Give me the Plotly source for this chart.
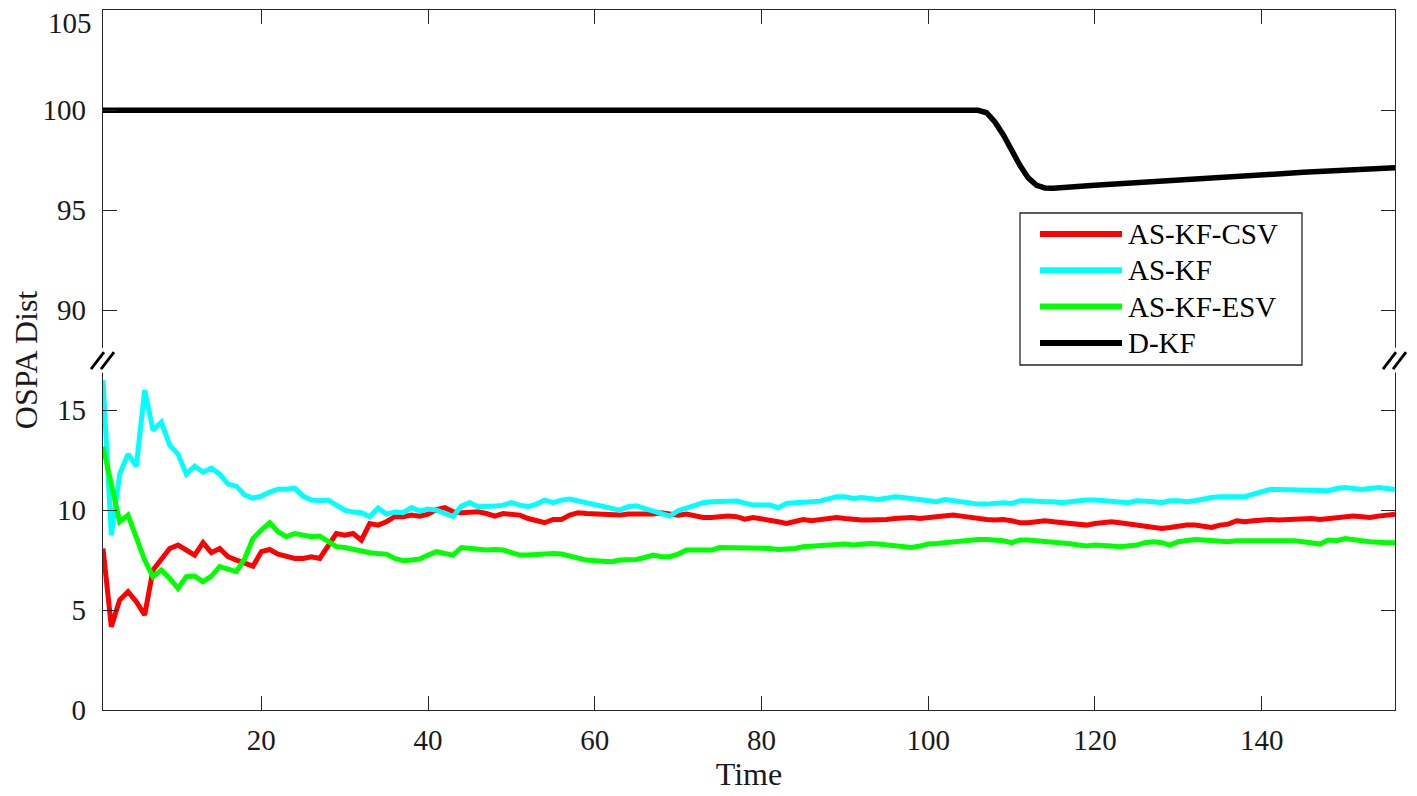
import plotly.graph_objects as go

# ---- data ----
time = list(range(1, 157))

as_kf_csv = [
    8.08, 4.17, 5.5, 5.92, 5.42, 4.75, 7.0, 7.5, 8.08, 8.25,
    8.0, 7.75, 8.37, 7.87, 8.08, 7.67, 7.5, 7.37, 7.2, 7.92,
    8.03, 7.8, 7.67, 7.58, 7.58, 7.67, 7.58, 8.25, 8.83, 8.75,
    8.83, 8.5, 9.33, 9.25, 9.42, 9.67, 9.67, 9.75, 9.7, 9.8,
    10.03, 10.12, 9.92, 9.87, 9.92, 9.92, 9.83, 9.7, 9.83, 9.8,
    9.75, 9.58, 9.5, 9.37, 9.53, 9.53, 9.75, 9.87, 9.83, 9.8,
    9.8, 9.75, 9.75, 9.8, 9.8, 9.75, 9.8, 9.87, 9.8, 9.75,
    9.8, 9.7, 9.63, 9.63, 9.67, 9.7, 9.67, 9.55, 9.63, 9.58,
    9.5, 9.42, 9.33, 9.42, 9.53, 9.47, 9.53, 9.63, 9.63, 9.58,
    9.53, 9.5, 9.5, 9.5, 9.53, 9.58, 9.63, 9.63, 9.58, 9.63,
    9.7, 9.75, 9.75, 9.7, 9.63, 9.58, 9.53, 9.5, 9.53, 9.47,
    9.37, 9.37, 9.42, 9.47, 9.42, 9.37, 9.3, 9.25, 9.25, 9.33,
    9.37, 9.42, 9.37, 9.3, 9.25, 9.2, 9.13, 9.08, 9.13, 9.2,
    9.25, 9.25, 9.2, 9.13, 9.25, 9.3, 9.47, 9.42, 9.47, 9.53,
    9.53, 9.5, 9.53, 9.58, 9.58, 9.58, 9.53, 9.58, 9.63, 9.7,
    9.7, 9.67, 9.63, 9.7, 9.75, 9.8,
]

as_kf = [
    16.5, 8.75, 11.8, 12.8, 12.2, 16.0, 14.0, 14.4, 13.25, 12.8,
    11.8, 12.2, 11.9, 12.1, 11.8, 11.3, 11.2, 10.75, 10.6, 10.7,
    10.9, 11.05, 11.05, 11.1, 10.7, 10.5, 10.47, 10.5, 10.25, 10.0,
    9.9, 9.87, 9.67, 10.1, 9.8, 9.9, 9.87, 10.13, 9.95, 10.05,
    10.0, 9.83, 9.68, 10.2, 10.37, 10.17, 10.17, 10.2, 10.25, 10.37,
    10.25, 10.17, 10.3, 10.5, 10.37, 10.5, 10.55, 10.45, 10.35, 10.25,
    10.15, 10.05, 10.0, 10.17, 10.22, 10.08, 9.97, 9.83, 9.7, 9.97,
    10.1, 10.25, 10.37, 10.42, 10.45, 10.42, 10.45, 10.35, 10.25, 10.25,
    10.25, 10.12, 10.33, 10.37, 10.37, 10.42, 10.45, 10.58, 10.67, 10.67,
    10.58, 10.63, 10.58, 10.53, 10.6, 10.67, 10.63, 10.58, 10.58, 10.53,
    10.42, 10.53, 10.47, 10.37, 10.33, 10.3, 10.3, 10.33, 10.37, 10.33,
    10.47, 10.47, 10.42, 10.42, 10.42, 10.37, 10.42, 10.47, 10.5, 10.5,
    10.47, 10.42, 10.37, 10.37, 10.47, 10.47, 10.42, 10.37, 10.47, 10.47,
    10.42, 10.47, 10.58, 10.63, 10.67, 10.67, 10.63, 10.67, 10.8, 10.92,
    11.03, 11.03, 11.03, 11.0, 10.97, 11.0, 11.0, 10.97, 11.08, 11.13,
    11.08, 11.03, 11.08, 11.13, 11.08, 11.03,
]

as_kf_esv = [
    13.17, 11.17, 9.42, 9.75, 8.67, 7.5, 6.67, 7.0, 6.58, 6.08,
    6.67, 6.7, 6.42, 6.7, 7.17, 7.03, 6.92, 7.58, 8.58, 9.0,
    9.37, 8.92, 8.67, 8.83, 8.75, 8.67, 8.7, 8.42, 8.17, 8.13,
    8.03, 7.95, 7.87, 7.83, 7.8, 7.58, 7.47, 7.5, 7.55, 7.75,
    7.92, 7.83, 7.75, 8.13, 8.08, 8.0, 8.0, 8.03, 8.0, 7.87,
    7.75, 7.75, 7.78, 7.75, 7.83, 7.8, 7.7, 7.58, 7.5, 7.47,
    7.42, 7.42, 7.5, 7.53, 7.53, 7.63, 7.75, 7.67, 7.67, 7.8,
    8.0, 8.0, 7.97, 8.0, 8.13, 8.13, 8.08, 8.12, 8.13, 8.13,
    8.08, 8.03, 8.03, 8.08, 8.17, 8.2, 8.2, 8.25, 8.25, 8.3,
    8.25, 8.3, 8.33, 8.3, 8.25, 8.2, 8.17, 8.13, 8.2, 8.3,
    8.33, 8.37, 8.42, 8.5, 8.53, 8.53, 8.53, 8.5, 8.47, 8.37,
    8.5, 8.5, 8.47, 8.42, 8.42, 8.37, 8.32, 8.25, 8.2, 8.25,
    8.2, 8.2, 8.17, 8.2, 8.25, 8.37, 8.42, 8.37, 8.25, 8.42,
    8.5, 8.53, 8.5, 8.47, 8.42, 8.42, 8.47, 8.47, 8.47, 8.5,
    8.5, 8.53, 8.5, 8.47, 8.42, 8.37, 8.3, 8.5, 8.47, 8.58,
    8.5, 8.47, 8.42, 8.37, 8.37, 8.37,
]

dkf_time = [1, 106, 107, 108, 109, 110, 111, 112, 113, 114, 115, 120, 126, 135, 145, 156]
dkf = [100.0, 100.0, 99.88, 99.42, 98.78, 98.0, 97.25, 96.62, 96.25, 96.12, 96.1,
       96.25, 96.42, 96.65, 96.9, 97.13]

x_ticks = [20, 40, 60, 80, 100, 120, 140]
y_ticks = [0, 5, 10, 15, 90, 95, 100, 105]

# broken y axis: values >= 90 are drawn shifted down so 90 sits just above 15
BREAK_LOW, BREAK_HIGH, SHIFT = 15, 90, 70
def to_axis(v):
    return v - SHIFT if v >= BREAK_HIGH - 5 else v

series = [
    ("AS-KF-CSV", time, as_kf_csv, "#ff0000", 5),
    ("AS-KF", time, as_kf, "#00ffff", 5),
    ("AS-KF-ESV", time, as_kf_esv, "#00ff00", 5),
    ("D-KF", dkf_time, dkf, "#000000", 5.5),
]

FONT = "Liberation Serif"
AX = "#262626"
TXT = "#1a1a1a"
Y_TOP = to_axis(y_ticks[-1])

fig = go.Figure()
for name, xs, ys, color, w in series:
    fig.add_trace(go.Scatter(x=xs, y=[to_axis(v) for v in ys], mode="lines", name=name,
                             line=dict(color=color, width=w), showlegend=False))

axis_common = dict(showline=True, linecolor=AX, linewidth=1.3, mirror="ticks",
                   ticks="inside", ticklen=14, tickwidth=1.3, tickcolor=AX,
                   showgrid=False, zeroline=False, automargin=False,
                   tickfont=dict(family=FONT, size=29, color=TXT))

# the page adds an 8px body margin, so the figure is 8px smaller than the window
fig.update_layout(
    width=1409, height=788,
    margin=dict(l=95, r=22, t=2, b=86),
    plot_bgcolor="white", paper_bgcolor="white",
    font=dict(family=FONT, color=TXT),
    xaxis=dict(range=[1, 156], tickvals=x_ticks,
               title=dict(text="Time", font=dict(family=FONT, size=32), standoff=2),
               ticklabelstandoff=4, **axis_common),
    yaxis=dict(range=[0, Y_TOP + 0.02], tickvals=[to_axis(v) for v in y_ticks],
               ticktext=[str(v) if v != y_ticks[-1] else "" for v in y_ticks],
               title=dict(text="OSPA Dist", font=dict(family=FONT, size=32), standoff=1),
               ticklabelstandoff=10, **axis_common),
)

# top label sits at the very edge of the figure; drawn as annotation so it stays visible
fig.add_annotation(xref="paper", yref="y", x=0, y=Y_TOP, text=str(y_ticks[-1]),
                   showarrow=False, xanchor="right", yanchor="top", xshift=-9, yshift=5,
                   font=dict(family=FONT, size=29, color=TXT))

# break marks on both vertical axes
y_break = (BREAK_LOW + BREAK_HIGH - SHIFT) / 2
for side in (0, 1):
    fig.add_shape(type="rect", xref="paper", yref="y", layer="above",
                  xsizemode="pixel", xanchor=side, x0=-5, x1=5,
                  y0=y_break - 0.62, y1=y_break + 0.62,
                  line=dict(width=0), fillcolor="white")
    for dx in (-6, 4):
        fig.add_shape(type="line", xref="paper", yref="y", layer="above",
                      xsizemode="pixel", xanchor=side, x0=dx - 6, x1=dx + 7,
                      ysizemode="pixel", yanchor=y_break, y0=-9, y1=8,
                      line=dict(color="black", width=2.8))

# legend box drawn by hand (long line samples like the original); screen pixel coords
L, T, W, H = 103, 10, 1292, 700
def px(x):
    return (x - L) / W
def py(y):
    return 1 - (y - T) / H

fig.add_shape(type="rect", xref="paper", yref="paper", layer="above",
              x0=px(1020), x1=px(1302), y0=py(365), y1=py(213),
              line=dict(color=AX, width=1.3), fillcolor="white")
for i, (name, _, _, color, w) in enumerate(series):
    yy = py(234 + 36.3 * i)
    fig.add_shape(type="line", xref="paper", yref="paper", layer="above",
                  x0=px(1040), x1=px(1122), y0=yy, y1=yy,
                  line=dict(color=color, width=6))
    fig.add_annotation(xref="paper", yref="paper", x=px(1126), y=yy,
                       text=name, showarrow=False, xanchor="left", yanchor="middle",
                       font=dict(family=FONT, size=29, color="black"))

fig.write_html("out.html")
